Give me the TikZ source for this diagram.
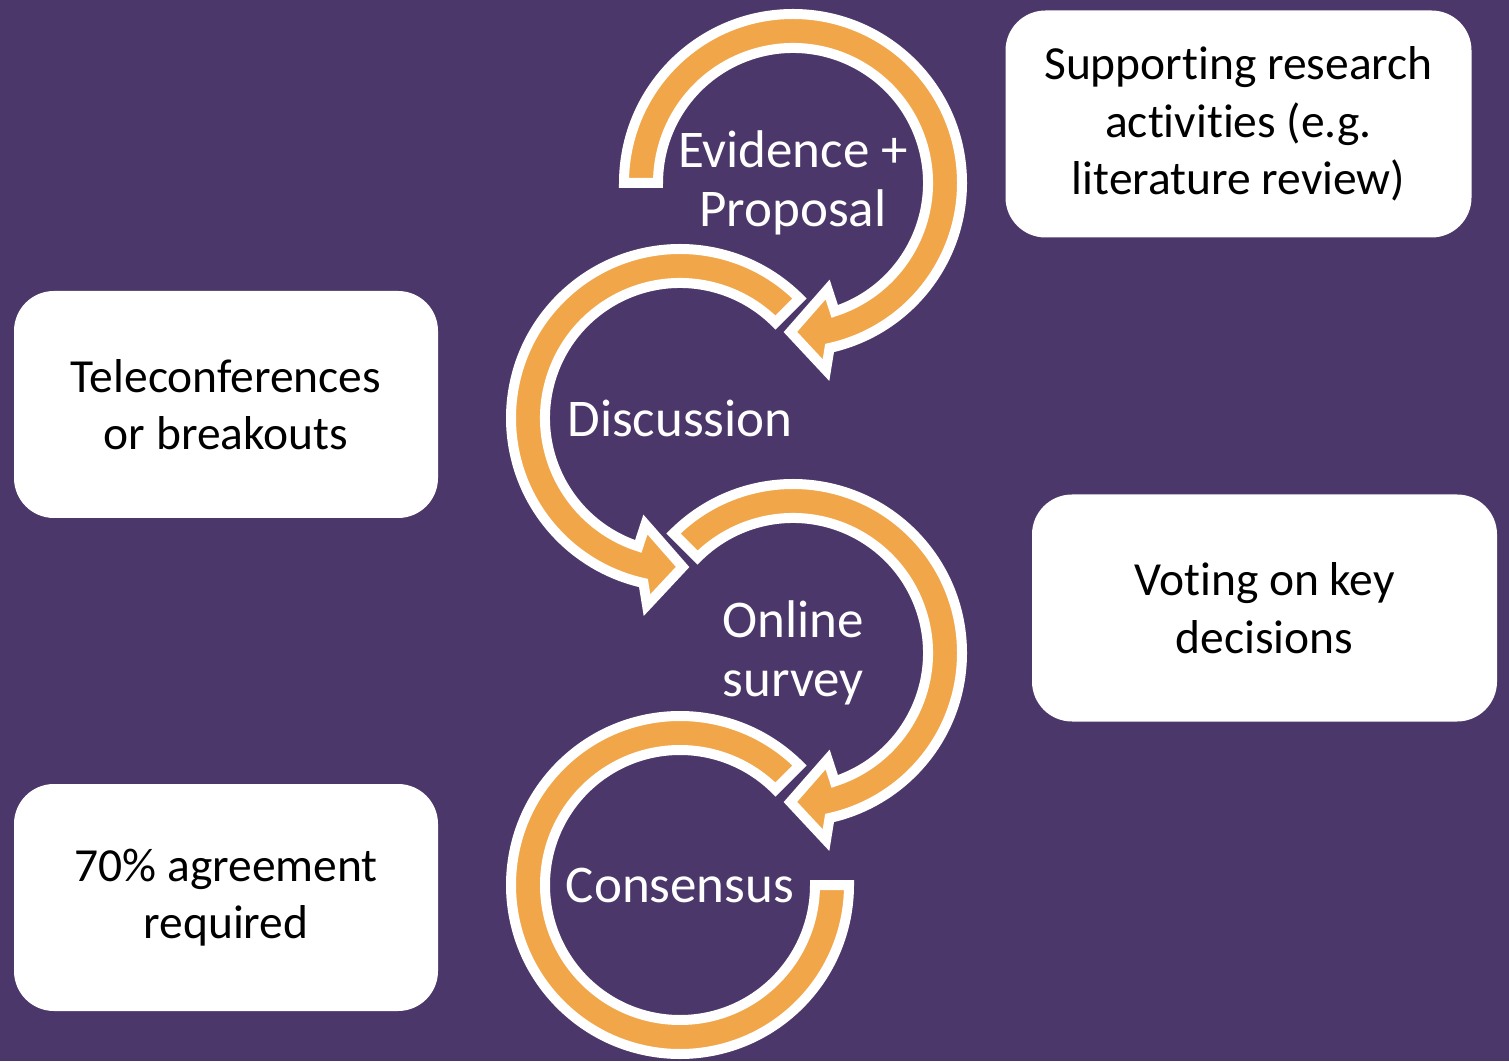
\documentclass[tikz,border=0pt]{standalone}
\usepackage{fontspec}
\setmainfont{Carlito}[Ligatures=NoCommon]
\definecolor{bgpurple}{RGB}{76,55,106}
\definecolor{arcorange}{RGB}{242,166,74}
\tikzset{
  arcshape/.style={fill=arcorange, draw=white, line width=10pt, line join=miter, miter limit=3},
  infobox/.style={fill=white, rounded corners=40pt, minimum width=#1, minimum height=227pt, align=center, text=black, font=\fontsize{47.5}{57.5}\selectfont, inner sep=0pt},
  steptext/.style={text=white, align=center, font=\fontsize{53}{59}\selectfont, inner sep=0pt}
}
% #1 centre, #2 start angle, #3 outer shaft end, #4 outer barb, #5 tip, #6 inner barb / inner shaft end
\newcommand\circarrow[6]{%
  \filldraw[arcshape] ([shift={(#1)}]#2:169) arc[start angle=#2, end angle=#3, radius=169pt]
    -- ([shift={(#1)}]#4:190) -- ([shift={(#1)}]#5:149) -- ([shift={(#1)}]#6:112)
    -- ([shift={(#1)}]#6:135) arc[start angle=#6, end angle=#2, radius=135pt] -- cycle;}
\begin{document}
\begin{tikzpicture}[x=1pt,y=1pt]
\fill[bgpurple] (0,0) rectangle (1509,1061);
\useasboundingbox (0,0) rectangle (1509,1061);
\coordinate (c1) at (793,878);
\coordinate (c2) at (680,643);
\coordinate (c3) at (793,408);
\coordinate (c4) at (680,176);
% circular arrows
\circarrow{c1}{180}{-77.5}{-80}{-91}{-72}
\circarrow{c2}{45}{257.5}{260}{271}{252}
\circarrow{c3}{135}{-77.5}{-80}{-91}{-72}
\filldraw[arcshape] ([shift={(c4)}]45:169) arc[start angle=45, end angle=360, radius=169pt]
  -- ([shift={(c4)}]0:135) arc[start angle=360, end angle=45, radius=135pt] -- cycle;
% step labels
\node[steptext] (evidence) at (c1) {Evidence +\\Proposal};
\node[steptext] (discussion) at (c2) {Discussion};
\node[steptext] (survey) at (c3) {Online\\survey};
\node[steptext] (consensus) at (c4) {Consensus};
% side boxes
\node[infobox=466pt] (support) at (1238.5,937) {Supporting research\\activities (e.g.\\literature review)};
\node[infobox=424pt] (telecon) at (226,656.5) {Teleconferences\\or breakouts};
\node[infobox=465pt] (voting) at (1264.5,453) {Voting on key\\decisions};
\node[infobox=424pt] (agree) at (226,163.5) {70\% agreement\\required};
\end{tikzpicture}
\end{document}
